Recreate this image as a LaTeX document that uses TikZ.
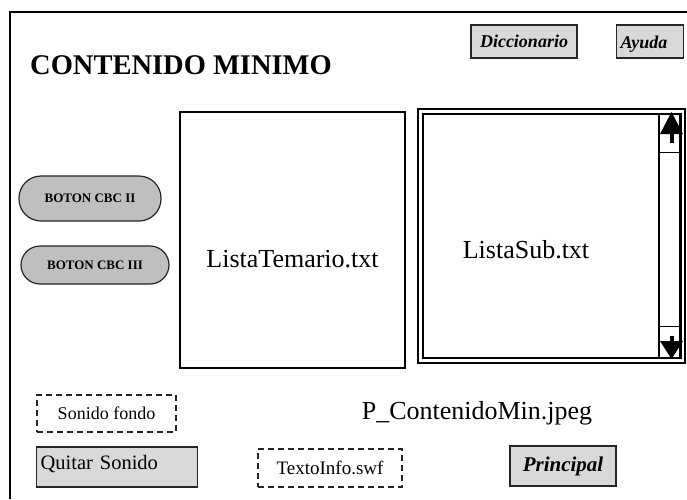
\documentclass[tikz,border=0pt]{standalone}
\usepackage{fontspec}
\setmainfont{Liberation Serif}
\begin{document}
\begin{tikzpicture}[x=1pt,y=-1pt,
 caja/.style={draw=black!85,line width=1.3pt,fill=black!15},
 oval/.style={draw=black!85,line width=1.2pt,fill=black!25,font=\fontsize{13}{15}\selectfont\bfseries},
 punteado/.style={draw=black!85,line width=1.3pt,dash pattern=on 6pt off 4pt},
 marco/.style={draw,line width=1.2pt}]
\useasboundingbox (0,0) rectangle (687,499);
\draw[line width=2pt] (10,499) -- (10,12) -- (687,12);
\node[anchor=base west,inner sep=0pt,font=\fontsize{28.5}{30}\selectfont\bfseries] (titulo) at (30,74) {CONTENIDO MINIMO};
\node[caja,minimum width=106pt,minimum height=33pt,font=\fontsize{18}{20}\selectfont\bfseries\itshape] (dicc) at (524,41.5) {Diccionario};
\node[caja,anchor=west,minimum height=33pt,text width=59pt,inner xsep=4pt,align=left,text height=17pt,text depth=4pt,font=\fontsize{18}{20}\selectfont\bfseries\itshape] (ayuda) at (616,41.5) {Ayuda};
 \begin{scope}
\node[oval,rounded corners=22pt,minimum width=142pt,minimum height=45pt] (cbcII) at (90,198.5) {BOTON CBC II};
\node[oval,rounded corners=19pt,minimum width=148pt,minimum height=38pt] (cbcIII) at (95,265) {BOTON CBC III};
 \end{scope}
 \begin{scope}
\node[marco,minimum width=225pt,minimum height=256pt] (temario) at (292.5,240) {};
\node[font=\fontsize{26}{28}\selectfont] (txtTemario) at (292.5,259) {ListaTemario.txt};
 \end{scope}
 \begin{scope}
\node[draw,line width=2pt,minimum width=267pt,minimum height=254pt] (sub) at (551.5,236) {};
\node[marco,minimum width=257pt,minimum height=244pt] (subIn) at (551.5,236) {};
\node[font=\fontsize{26}{28}\selectfont] (txtSub) at (526,250) {ListaSub.txt};
\node[marco,minimum width=22pt,minimum height=244pt] (barra) at (670,236) {};
\draw[marco] (barra.north west) ++(0,39) -- ++(22,0);
\draw[marco] (barra.south west) ++(0,-32) -- ++(22,0);
\fill (660,134) -- (671.5,112) -- (683,134) -- cycle;
\fill (669.5,133) rectangle (673.5,143);
\fill (660,341) -- (683,341) -- (671.5,359) -- cycle;
\fill (669.5,336) rectangle (673.5,342);
 \end{scope}
\node[punteado,minimum width=139pt,minimum height=37pt,font=\fontsize{18}{20}\selectfont] (fondo) at (106.5,413.5) {Sonido fondo};
\node[font=\fontsize{26}{28}\selectfont] (pagina) at (477,413) {P\_ContenidoMin.jpeg};
\node[caja,anchor=west,minimum height=40pt,text width=153pt,inner xsep=4pt,align=left,text height=15pt,text depth=11pt,font=\fontsize{20.5}{24}\selectfont] (quitar) at (36,467) {Quitar Sonido};
\node[punteado,minimum width=144pt,minimum height=38pt,font=\fontsize{19}{22}\selectfont] (info) at (330,468) {TextoInfo.swf};
\node[caja,minimum width=106pt,minimum height=40pt,font=\fontsize{21}{24}\selectfont\bfseries\itshape] (principal) at (563,466) {Principal};
\end{tikzpicture}
\end{document}
